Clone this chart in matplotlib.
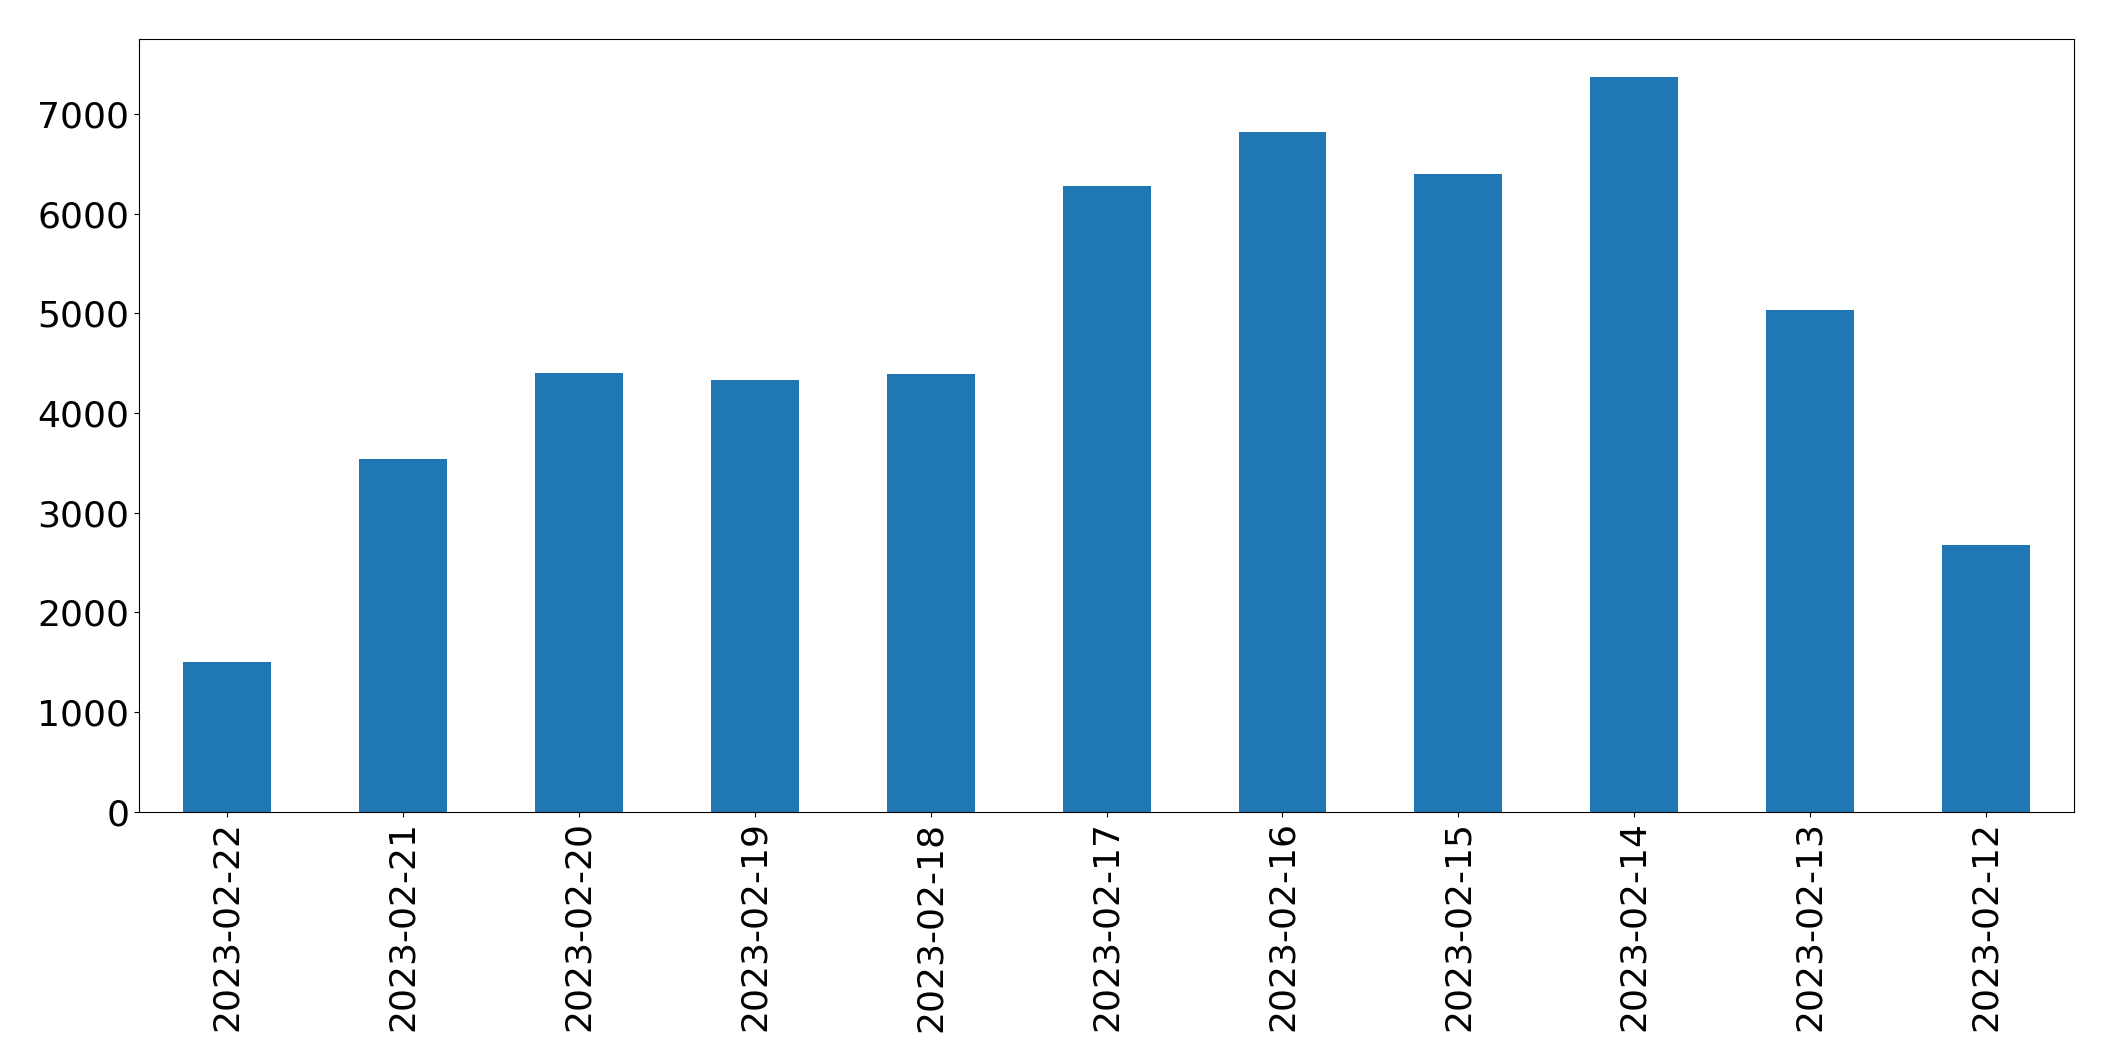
import matplotlib
matplotlib.use("Agg")
import matplotlib.pyplot as plt

dates = ["2023-02-22","2023-02-21","2023-02-20","2023-02-19","2023-02-18","2023-02-17",
         "2023-02-16","2023-02-15","2023-02-14","2023-02-13","2023-02-12"]
values = [1500, 3540, 4405, 4330, 4395, 6280, 6820, 6400, 7375, 5035, 2675]

fig = plt.figure(figsize=(21.15, 10.61), dpi=100)
ax = fig.add_axes([0.0657, 0.235, 0.915, 0.728])
x = range(len(dates))
ax.bar(x, values, width=0.5, color="#1f77b4")
ax.set_xlim(-0.5, len(dates) - 0.5)
ax.set_xticks(list(x))
ax.set_xticklabels(dates, rotation=90)
ax.tick_params(labelsize=26)
ax.set_ylim(0, 7750)
fig.savefig("out.png", dpi=100)
